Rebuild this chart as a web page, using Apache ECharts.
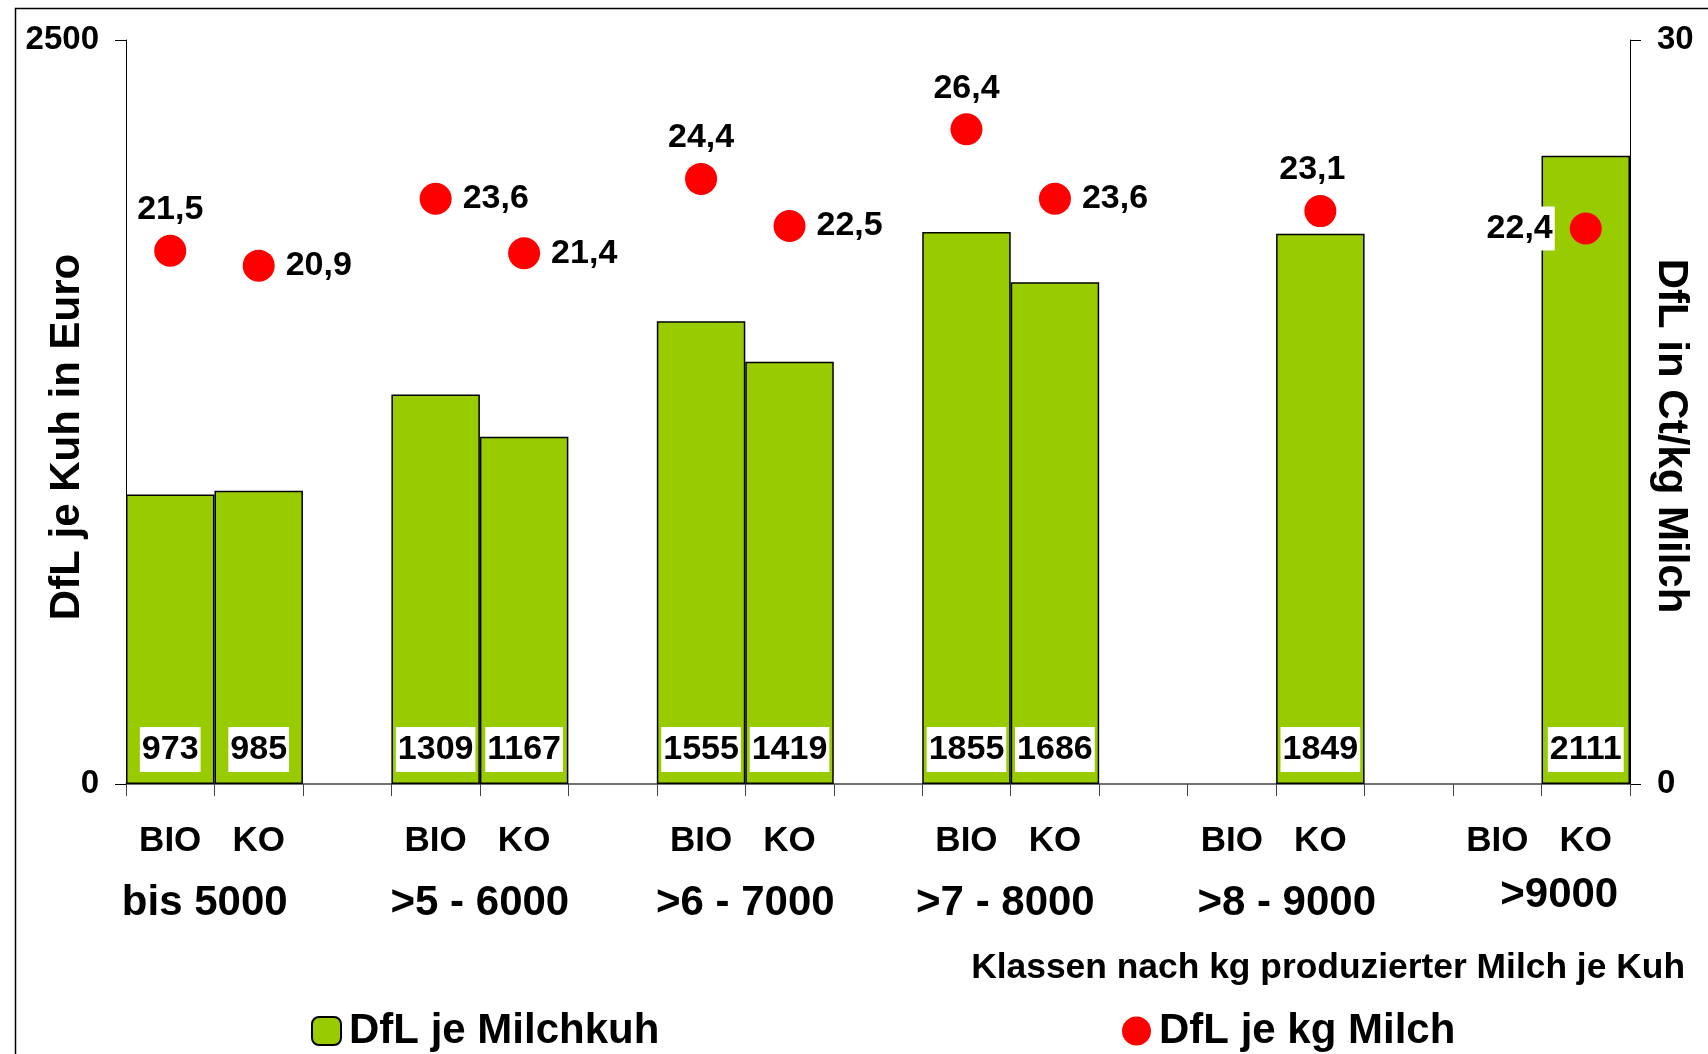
<!DOCTYPE html>
<html>
<head>
<meta charset="utf-8">
<script src="https://cdn.jsdelivr.net/npm/echarts/dist/echarts.min.js"></script>
<style>
html,body{margin:0;padding:0;background:#fff;}
#c{width:1708px;height:1054px;}
</style>
</head>
<body>
<div id="c"></div>
<script>
// ---- data ----
const groups = ['bis 5000', '>5 - 6000', '>6 - 7000', '>7 - 8000', '>8 - 9000', '>9000'];
const types = ['BIO', 'KO'];
const dflKuhBIO = [973, 1309, 1555, 1855, null, null];
const dflKuhKO = [985, 1167, 1419, 1686, 1849, 2111];
const dflKgBIO = [21.5, 23.6, 24.4, 26.4, null, null];
const dflKgKO = [20.9, 21.4, 22.5, 23.6, 23.1, 22.4];
const leftTicks = [0, 2500];
const rightTicks = [0, 30];
const seriesNames = ['DfL je Milchkuh', 'DfL je kg Milch'];
const axisNames = ['DfL je Kuh in Euro', 'DfL in Ct/kg Milch'];
const xTitle = 'Klassen nach kg produzierter Milch je Kuh';

// label placement (style) for the dots
const dotLabelBIO = ['top', 'right', 'top', 'top', null, null];
const dotLabelKO = ['right', 'right', 'right', 'right', 'top', 'left'];
// small horizontal nudges of the group captions (style, in slot widths)
const groupShift = [-0.11, 0, 0, -0.06, 0.12, 0.2];

const FONT = "'Liberation Sans', Arial, sans-serif";

// ---- build slot arrays (BIO, KO, gap, ...) ----
const slotLabels = [], barData = [], dotData = [], groupCenters = [];
groups.forEach((g, i) => {
  if (i > 0) { slotLabels.push(''); barData.push('-'); dotData.push('-'); }
  groupCenters.push(slotLabels.length + 1 + groupShift[i]);
  const bars = [dflKuhBIO[i], dflKuhKO[i]];
  const dots = [dflKgBIO[i], dflKgKO[i]];
  const pos = [dotLabelBIO[i], dotLabelKO[i]];
  types.forEach((t, k) => {
    slotLabels.push(t);
    barData.push(bars[k] == null ? '-' : bars[k]);
    if (dots[k] == null) { dotData.push('-'); }
    else {
      const p = pos[k];
      const lab = { position: p };
      if (p === 'right') lab.distance = 11;
      if (p === 'top') { lab.distance = 8; if (i === 4) lab.offset = [-8, 0]; }
      if (p === 'left') { lab.distance = 15; lab.backgroundColor = '#fff'; lab.padding = [5, 2, 5, 2]; }
      dotData.push({ value: dots[k], label: lab });
    }
  });
});
const nSlots = slotLabels.length;

const chart = echarts.init(document.getElementById('c'));
chart.setOption({
  animation: false,
  backgroundColor: '#fff',
  textStyle: { fontFamily: FONT, fontWeight: 'bold', color: '#000' },
  graphic: [{
    type: 'rect', left: 13, top: 6, silent: true,
    shape: { width: 1720, height: 1100 },
    style: { fill: 'none', stroke: '#000', lineWidth: 1.5 }
  }],
  title: {
    text: xTitle, right: 18, top: 946,
    textStyle: { fontFamily: FONT, fontWeight: 'bold', fontSize: 35.4, color: '#000', lineHeight: 35 }
  },
  legend: [{
    data: [seriesNames[0]], left: 306, top: 1005, itemWidth: 29, itemHeight: 28,
    textStyle: { fontFamily: FONT, fontWeight: 'bold', fontSize: 42, color: '#000', padding: [0, 0, 0, 3] }
  }, {
    data: [{ name: seriesNames[1], icon: 'circle' }], left: 1117, top: 1005, itemWidth: 29, itemHeight: 29,
    textStyle: { fontFamily: FONT, fontWeight: 'bold', fontSize: 42, color: '#000', padding: [0, 0, 0, 3] }
  }],
  grid: { left: 126, right: 78, top: 40, bottom: 270, containLabel: false, outerBoundsMode: 'none' },
  xAxis: [{
    type: 'category', data: slotLabels, boundaryGap: true,
    axisLine: { show: true, lineStyle: { color: '#444', width: 1.5 } },
    axisTick: { show: true, interval: 0, length: 12, lineStyle: { color: '#444', width: 1 } },
    axisLabel: { interval: 0, margin: 57, verticalAlign: 'middle', fontFamily: FONT, fontWeight: 'bold', fontSize: 35, color: '#000' },
    splitLine: { show: false }
  }, {
    type: 'value', min: 0, max: nSlots, position: 'bottom',
    axisLine: { show: false }, axisTick: { show: false }, splitLine: { show: false },
    axisLabel: {
      customValues: groupCenters, margin: 119, verticalAlign: 'middle',
      fontFamily: FONT, fontWeight: 'bold', fontSize: 42, color: '#000',
      formatter: v => {
        const i = groupCenters.indexOf(v);
        if (i < 0) return '';
        return i === groups.length - 1 ? '{up|' + groups[i] + '}' : groups[i];
      },
      rich: { up: { fontFamily: FONT, fontWeight: 'bold', fontSize: 42, color: '#000', padding: [0, 0, 16, 0] } }
    }
  }],
  yAxis: [{
    type: 'value', min: leftTicks[0], max: leftTicks[1], interval: leftTicks[1] - leftTicks[0], position: 'left',
    name: axisNames[0], nameLocation: 'middle', nameGap: 38, nameMoveOverlap: false,
    nameTextStyle: { fontFamily: FONT, fontWeight: 'bold', fontSize: 42, color: '#000', padding: [0, 50, 0, 0] },
    axisLine: { show: true, lineStyle: { color: '#000', width: 1 } },
    axisTick: { show: true, length: 11, inside: false, lineStyle: { color: '#000' } },
    axisLabel: { margin: 27, fontFamily: FONT, fontWeight: 'bold', fontSize: 33, color: '#000', formatter: v => String(v) },
    splitLine: { show: false }
  }, {
    type: 'value', min: rightTicks[0], max: rightTicks[1], interval: rightTicks[1] - rightTicks[0], position: 'right',
    name: axisNames[1], nameLocation: 'middle', nameGap: 20, nameRotate: -90, nameMoveOverlap: false,
    nameTextStyle: { fontFamily: FONT, fontWeight: 'bold', fontSize: 42, color: '#000', padding: [0, 0, 0, 48] },
    axisLine: { show: true, lineStyle: { color: '#000', width: 1 } },
    axisTick: { show: true, length: 11, inside: false, lineStyle: { color: '#000' } },
    axisLabel: { margin: 27, fontFamily: FONT, fontWeight: 'bold', fontSize: 33, color: '#000', formatter: v => String(v) },
    splitLine: { show: false }
  }],
  series: [{
    name: seriesNames[0], type: 'bar', xAxisIndex: 0, yAxisIndex: 0,
    data: barData, barCategoryGap: '0%', barGap: '0%', z: 2,
    itemStyle: { color: '#99CC00', borderColor: '#000', borderWidth: 1.5 },
    label: {
      show: true, position: 'insideBottom', distance: 12,
      backgroundColor: '#fff', padding: [5, 2, 4, 2], lineHeight: 36,
      fontFamily: FONT, fontWeight: 'bold', fontSize: 34, color: '#000',
      formatter: p => String(p.value)
    }
  }, {
    name: seriesNames[1], type: 'scatter', xAxisIndex: 0, yAxisIndex: 1,
    data: dotData, symbol: 'circle', symbolSize: 32, z: 5,
    itemStyle: { color: '#FF0000', opacity: 1 },
    label: {
      show: true, fontFamily: FONT, fontWeight: 'bold', fontSize: 34, color: '#000', lineHeight: 34,
      formatter: p => String(p.value).replace('.', ',')
    }
  }]
});
</script>
</body>
</html>
